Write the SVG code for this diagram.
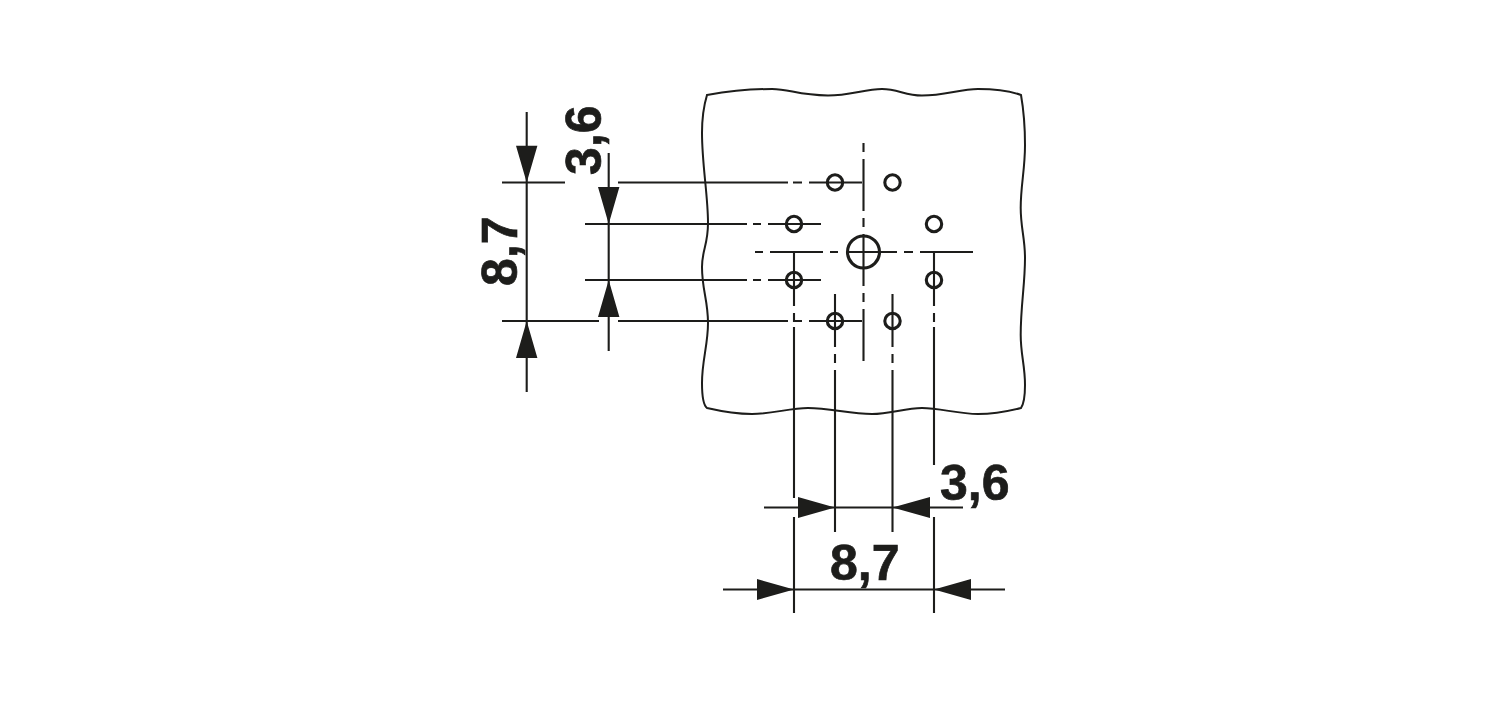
<svg xmlns="http://www.w3.org/2000/svg" width="1500" height="703" viewBox="0 0 1500 703">
<style>
.o{fill:none;stroke:#1d1d1b;stroke-width:2}
.c{fill:none;stroke:#1d1d1b;stroke-width:2.100}
.b{fill:none;stroke:#1d1d1b;stroke-width:3.100}
.a{fill:#1d1d1b;stroke:none}
.t{font-family:"Liberation Sans",Arial,sans-serif;font-weight:700;font-size:50px;fill:#1d1d1b;stroke:#1d1d1b;stroke-width:.7}
</style>
<rect width="1500" height="703" fill="#fff"/>
<g id="plate"><path class="o" d="M707 95C730 91 755 89 772 89C790 89 797 95 828 95.500C850 95.500 865 89 882 89C898 89 905 95.500 922 95.500C945 95.500 960 89 978 89C995 89 1010 91 1021 95C1024 112 1025 128 1025 145C1025 170 1020.700 185 1020.700 208C1020.700 228 1025 238 1025 258C1025 285 1020.700 305 1020.700 335C1020.700 355 1025 365 1025 385C1025 397 1023 405 1021 408C1005 412 990 414 978 414C958 414 940 408 922 408C905 408 890 414 872 414C850 414 830 408 808 408C790 408 772 414 752 414C735 414 720 411 707 408C703 405 702 395 702 383C702 360 708 345 708 323C708 300 702 290 702 267C702 250 708 245 708 223C708 195 702 165 702 133C702 118 704 105 707 95Z"/></g>
<g id="holes">
<circle class="b" cx="835" cy="182.500" r="7.700"/>
<circle class="b" cx="892.500" cy="182.500" r="7.700"/>
<circle class="b" cx="794" cy="224" r="7.700"/>
<circle class="b" cx="934" cy="224" r="7.700"/>
<circle class="b" cx="794" cy="280" r="7.700"/>
<circle class="b" cx="934" cy="280" r="7.700"/>
<circle class="b" cx="835" cy="321" r="7.700"/>
<circle class="b" cx="892.500" cy="321" r="7.700"/>
<circle class="b" cx="863.500" cy="252" r="16"/>
</g>
<g id="connectors">
<path class="c" d="M863.500 143V152M863.500 159V211M863.500 218V227M863.500 234V286M863.500 293V302M863.500 309V361"/>
<path class="c" d="M618 182.500H788M793 182.500H802M809 182.500H862"/>
<path class="c" d="M585 224H747M753 224H761M768 224H821"/>
<path class="c" d="M755 252H763M770 252H823M830 252H838M846 252H897M904 252H913M920 252H973"/>
<path class="c" d="M585 280H747M753 280H761M768 280H821"/>
<path class="c" d="M618 321H788M793 321H802M809 321H862"/>
<path class="c" d="M794 252V306M794 313V322M794 327V498M794 517V613"/>
<path class="c" d="M934 252V306M934 313V322M934 327V465M934 517V613"/>
<path class="c" d="M835 294V347M835 354V363M835 370V532"/>
<path class="c" d="M892.500 294V347M892.500 354V363M892.500 370V532"/>
<path class="c" d="M764 507.500H963M723 589.500H1005"/>
<path class="c" d="M526.700 112V392M502 182.500H565M502 321H599M608.700 153V351"/>
<path class="a" d="M835 507.500L798 497V518ZM892.500 507.500L930 497V518ZM794 589.500L757 579V600ZM934 589.500L971 579V600ZM526.700 182.500L516 145.700H537.400ZM526.700 321L516 358H537.400ZM608.700 224L598 187H619.400ZM608.700 280L598 317H619.400Z"/>
</g>
<g id="labels">
<text class="t" x="940" y="500">3,6</text>
<text class="t" x="830" y="580">8,7</text>
<text class="t" transform="translate(517 286) rotate(-90)">8,7</text>
<text class="t" transform="translate(601 175) rotate(-90)">3,6</text>
</g>
</svg>
